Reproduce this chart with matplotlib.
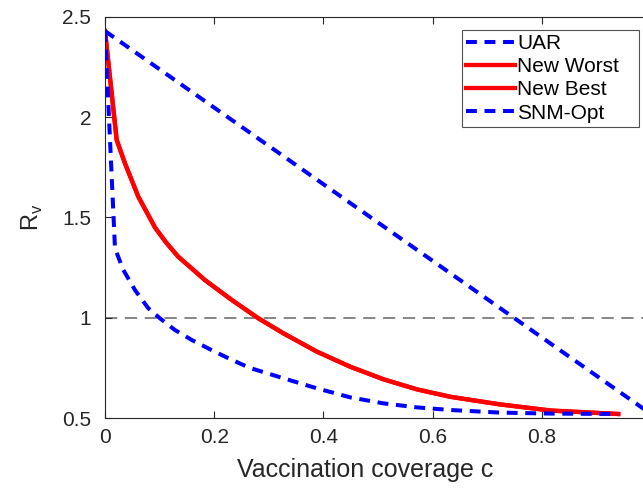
import matplotlib
matplotlib.use("Agg")
import matplotlib.pyplot as plt

plt.rcParams['font.family'] = ['Liberation Sans', 'DejaVu Sans']

# Vaccination coverage and the resulting reproduction number R_v
c_uar = [0.0, 1.0]
r_uar = [2.43, 0.52]

c_new = [0.0, 0.0214, 0.0366, 0.061, 0.0916, 0.112, 0.134, 0.183, 0.232, 0.281, 0.327,
         0.388, 0.449, 0.510, 0.571, 0.632, 0.723, 0.817, 0.94]
r_worst = [2.43, 1.887, 1.770, 1.604, 1.450, 1.375, 1.305, 1.188, 1.089, 0.997, 0.922,
           0.831, 0.756, 0.693, 0.643, 0.606, 0.568, 0.537, 0.52]
r_best = list(r_worst)

c_snm = [0.0, 0.0183, 0.0336, 0.055, 0.0794, 0.1007, 0.128, 0.159, 0.195, 0.226,
         0.265, 0.327, 0.388, 0.449, 0.510, 0.571, 0.632, 0.723, 0.817, 0.94]
r_snm = [2.43, 1.346, 1.238, 1.138, 1.047, 0.997, 0.939, 0.889, 0.839, 0.798,
         0.750, 0.698, 0.648, 0.603, 0.573, 0.553, 0.540, 0.527, 0.522, 0.52]

threshold = 1.0

xticks = [0, 0.2, 0.4, 0.6, 0.8]
xticklabels = ['0', '0.2', '0.4', '0.6', '0.8']
yticks = [0.5, 1, 1.5, 2, 2.5]
yticklabels = ['0.5', '1', '1.5', '2', '2.5']

fig = plt.figure(figsize=(6.43, 4.90), dpi=100)
ax = fig.add_axes([105 / 643, 72 / 490, 546 / 643, 401 / 490])

ax.axhline(threshold, color=(0.4, 0.4, 0.4), lw=1.1, dashes=(8, 5), zorder=1)
blue_dash = (2.7, 1.9)
ax.plot(c_uar, r_uar, color='#0000ff', lw=2.9, dashes=blue_dash, label='UAR', zorder=3)
ax.plot(c_new, r_worst, color='#ff0000', lw=3.1, label='New Worst', zorder=2)
ax.plot(c_new, r_best, color='#ff0000', lw=3.1, label='New Best', zorder=2)
ax.plot(c_snm, r_snm, color='#0000ff', lw=2.9, dashes=blue_dash, label='SNM-Opt', zorder=3)

ax.set_xlim(0, 1)
ax.set_ylim(0.5, 2.5)
ax.set_xticks(xticks)
ax.set_xticklabels(xticklabels)
ax.set_yticks(yticks)
ax.set_yticklabels(yticklabels)

spine_col = (0.15, 0.15, 0.15)
for s in ax.spines.values():
    s.set_color(spine_col)
    s.set_linewidth(0.8)
ax.tick_params(direction='in', length=5, width=0.8, color=spine_col,
               labelsize=15, labelcolor=spine_col, top=True, right=True)
ax.tick_params(axis='x', pad=7)
ax.tick_params(axis='y', pad=10)

ax.set_xlabel('Vaccination coverage c', fontsize=18, color=spine_col)
ax.xaxis.set_label_coords(0.476, -0.1)
ax.set_ylabel(r'R$_\mathregular{v}$', fontsize=17, color=spine_col)
ax.yaxis.set_label_coords(-0.11, 0.5)

leg_x0 = (462 - 105) / 546
leg_w = (639 - 462) / 546
leg_top = (418 - 30) / 401
leg = ax.legend(loc='upper left', mode='expand',
                bbox_to_anchor=(leg_x0, leg_top - 0.3, leg_w, 0.3),
                fontsize=15, frameon=True, fancybox=False, handlelength=2.35,
                handletextpad=0.1, borderpad=0.2, labelspacing=0.2,
                borderaxespad=0)
leg.get_frame().set_edgecolor(spine_col)
leg.get_frame().set_linewidth(0.8)

fig.savefig('out.png', dpi=100)
